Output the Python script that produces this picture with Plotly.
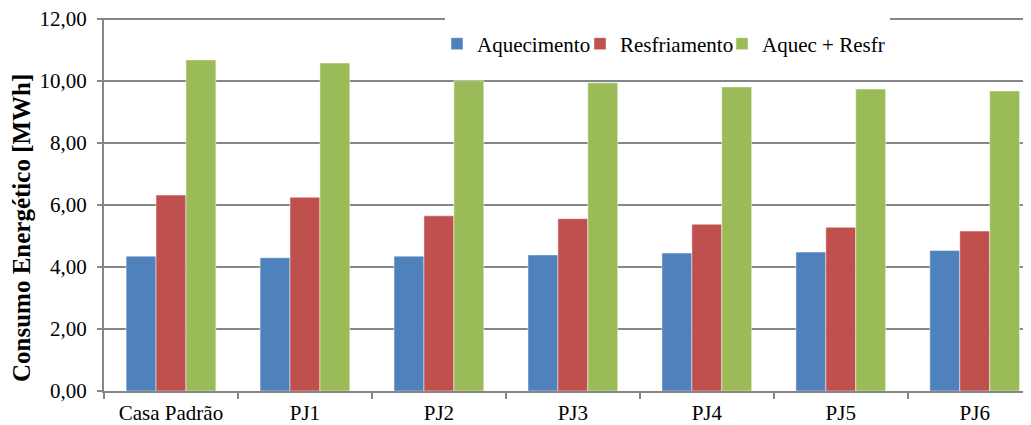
import plotly.graph_objects as go

categorias = ["Casa Padrão", "PJ1", "PJ2", "PJ3", "PJ4", "PJ5", "PJ6"]
aquecimento = [4.35, 4.30, 4.35, 4.39, 4.45, 4.48, 4.53]
resfriamento = [6.32, 6.25, 5.65, 5.56, 5.38, 5.28, 5.16]
aquec_resfr = [10.68, 10.58, 10.01, 9.94, 9.81, 9.74, 9.68]
y_ticks = [0, 2, 4, 6, 8, 10, 12]
y_tick_labels = ["0,00", "2,00", "4,00", "6,00", "8,00", "10,00", "12,00"]

FONT = "Liberation Serif"
GRID = "#868686"
COLORS = ["#4F81BD", "#C0504D", "#9BBB59"]
NAMES = ["Aquecimento", "Resfriamento", "Aquec + Resfr"]
SERIES = [aquecimento, resfriamento, aquec_resfr]

# page body has an 8px margin: compensate so the plot area sits at x 104..1031, y 15..391
PLOT_L, PLOT_R, PLOT_T, PLOT_B = 104, 1031, 15, 391
PW, PH = PLOT_R - PLOT_L, PLOT_B - PLOT_T
UNIT = (391 - 19) / 12.0  # px per MWh in the reference


def px(x):
    return (x - PLOT_L) / PW


def py(y):
    return (PLOT_B - y) / PH


legend_keys = ["legend", "legend2", "legend3"]
legend_left = [437, 580, 722]

fig = go.Figure()
for name, vals, col, lk in zip(NAMES, SERIES, COLORS, legend_keys):
    fig.add_trace(go.Bar(
        x=categorias, y=vals, name=name, legend=lk,
        marker=dict(color=col, line=dict(color="rgba(255,255,255,0.6)", width=0.8)),
    ))

legend_common = dict(
    orientation="h", xanchor="left", yanchor="middle", y=py(44),
    bgcolor="rgba(0,0,0,0)", font=dict(family=FONT, size=21, color="black"),
    itemwidth=30,
)

fig.update_layout(
    width=1023, height=417,
    margin=dict(l=PLOT_L - 8, r=0, t=PLOT_T - 8, b=425 - PLOT_B),
    paper_bgcolor="white", plot_bgcolor="white",
    font=dict(family=FONT, size=21, color="black"),
    barmode="group", bargap=0.33, bargroupgap=0,
    showlegend=True,
    legend=dict(x=px(legend_left[0]), **legend_common),
    legend2=dict(x=px(legend_left[1]), **legend_common),
    legend3=dict(x=px(legend_left[2]), **legend_common),
    xaxis=dict(
        type="category", range=[-0.5, 6.42],
        showline=True, linecolor=GRID, linewidth=2,
        ticks="outside", tickson="boundaries", ticklen=6, tickcolor=GRID, tickwidth=1.5,
        showgrid=False, ticklabelstandoff=2,
        tickfont=dict(family=FONT, size=21, color="black"),
    ),
    yaxis=dict(
        range=[0, PH / UNIT], tickvals=y_ticks, ticktext=y_tick_labels,
        showline=True, linecolor=GRID, linewidth=2,
        ticks="outside", ticklen=5, tickcolor=GRID, tickwidth=1.5,
        showgrid=True, gridcolor=GRID, gridwidth=2,
        zeroline=False, ticklabelstandoff=6, ticklabeloverflow="allow",
        tickfont=dict(family=FONT, size=21, color="black"),
    ),
    shapes=[
        # white strip behind the legend that interrupts the top gridline
        dict(type="rect", xref="paper", yref="paper",
             x0=px(445), x1=px(890), y0=py(23), y1=py(15),
             fillcolor="white", line=dict(width=0), layer="above"),
        # y axis line stops at the 12,00 gridline
        dict(type="rect", xref="paper", yref="paper",
             x0=px(101), x1=px(107), y0=py(18), y1=py(15),
             fillcolor="white", line=dict(width=0), layer="above"),
    ],
    annotations=[dict(
        text="<b>Consumo Energético [MWh]</b>", textangle=-90,
        xref="paper", yref="paper", x=px(22), y=py(228),
        xanchor="center", yanchor="middle", showarrow=False,
        font=dict(family=FONT, size=25, color="black"),
    )],
)

fig.write_html("out.html")
